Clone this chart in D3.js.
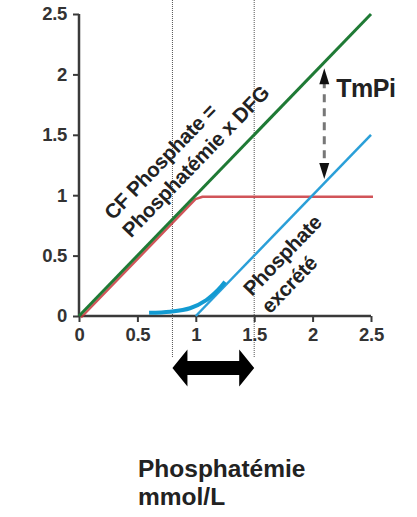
<!DOCTYPE html>
<html>
<head>
<meta charset="utf-8">
<script src="https://cdn.jsdelivr.net/npm/d3@7"></script>
<style>
  html, body { margin: 0; padding: 0; background: #fff; }
  svg { display: block; }
  text { font-family: "Liberation Sans", Arial, Helvetica, sans-serif; font-weight: bold; }
</style>
</head>
<body>
<svg id="chart" width="417" height="517"></svg>
<script>
// Phosphate handling by the kidney: filtered load, tubular maximum, excretion
const xTicks = [0, 0.5, 1, 1.5, 2, 2.5];
const yTicks = [0, 0.5, 1, 1.5, 2, 2.5];
const xTickLabels = ["0", "0.5", "1", "1.5", "2", "2.5"];
const yTickLabels = ["0", "0.5", "1", "1.5", "2", "2.5"];

// filtered load = plasma phosphate x GFR
const filteredLoad = [[0, 0], [2.5, 2.5]];
// reabsorbed phosphate, capped at the tubular maximum
const reabsorbed = [[0, 0], [0.98, 0.98], [1.04, 1.0], [2.5, 1.0]];
// excreted phosphate (ideal threshold) and the real splay curve
const excreted = [[1, 0], [2.5, 1.5]];
const excretedSplay = [[0.6, 0.027], [0.78, 0.036], [0.95, 0.064], [1.09, 0.132], [1.19, 0.215], [1.25, 0.284]];
// normal plasma phosphate range
const normalRange = [0.8, 1.5];
// where the TmPi gap is shown
const tmpiAt = 2.1;

const svg = d3.select("#chart");
const x = d3.scaleLinear().domain([0, 2.5]).range([79, 371]);
const y = d3.scaleLinear().domain([0, 2.5]).range([316, 14]);

// dotted verticals bounding the normal range
svg.selectAll("line.range")
  .data(normalRange)
  .join("line")
  .attr("class", "range")
  .attr("x1", d => x(d)).attr("x2", d => x(d))
  .attr("y1", 0).attr("y2", 358)
  .attr("stroke", "#555").attr("stroke-width", 1)
  .attr("stroke-dasharray", "1,1");

// axes
const axisColor = "#3a3a3a";
const xAxis = d3.axisBottom(x).tickValues(xTicks).tickSize(6).tickPadding(6)
  .tickFormat((d, i) => xTickLabels[i]);
const yAxis = d3.axisLeft(y).tickValues(yTicks).tickSize(6).tickPadding(6)
  .tickFormat((d, i) => yTickLabels[i]);

const gx = svg.append("g").attr("transform", `translate(0,${y(0)})`).call(xAxis);
const gy = svg.append("g").attr("transform", `translate(${x(0)},0)`).call(yAxis);
[gx, gy].forEach(g => {
  g.select(".domain").attr("stroke", axisColor).attr("stroke-width", 2.5);
  g.selectAll(".tick line").attr("stroke", axisColor).attr("stroke-width", 2);
  g.selectAll(".tick text").attr("fill", "#333").attr("font-size", 18.5)
    .attr("font-family", "'Liberation Sans', Arial, sans-serif").attr("font-weight", "bold")
    .attr("letter-spacing", "-0.3");
});
gx.select(".domain").attr("d", `M${x(0)},0H${x(2.5)}`);
gy.select(".domain").attr("d", `M0,${y(0)}V${y(2.5)}`);

const line = d3.line().x(d => x(d[0])).y(d => y(d[1]));

// reabsorbed (red), slightly offset so it shows beside the filtered load
svg.append("path")
  .datum(reabsorbed)
  .attr("d", line.curve(d3.curveLinear))
  .attr("transform", "translate(2,1.5)")
  .attr("fill", "none").attr("stroke", "#c9363c").attr("stroke-width", 2.5)
  .attr("stroke-linejoin", "round")
  .attr("stroke-opacity", 0.85);

// filtered load (green)
svg.append("path")
  .datum(filteredLoad)
  .attr("d", line.curve(d3.curveLinear))
  .attr("fill", "none").attr("stroke", "#1f7a35").attr("stroke-width", 3);

// excreted (blue)
svg.append("path")
  .datum(excreted)
  .attr("d", line.curve(d3.curveLinear))
  .attr("fill", "none").attr("stroke", "#2a9fd8").attr("stroke-width", 2.5);

svg.append("path")
  .datum(excretedSplay)
  .attr("d", line.curve(d3.curveCatmullRom))
  .attr("fill", "none").attr("stroke", "#139bd2").attr("stroke-width", 4)
  .attr("stroke-linecap", "butt");

// TmPi dashed double arrow between filtered load and excretion
const yTop = y(tmpiAt) + 6;
const yBot = y(tmpiAt - 1) - 4;
const xa = x(tmpiAt);
svg.append("line")
  .attr("x1", xa).attr("x2", xa)
  .attr("y1", yTop + 12).attr("y2", yBot - 12)
  .attr("stroke", "#777").attr("stroke-width", 3)
  .attr("stroke-dasharray", "8,6");
svg.append("path")
  .attr("d", `M${xa},${yTop}L${xa - 5},${yTop + 16}L${xa + 5},${yTop + 16}Z`)
  .attr("fill", "#111");
svg.append("path")
  .attr("d", `M${xa},${yBot}L${xa - 5},${yBot - 16}L${xa + 5},${yBot - 16}Z`)
  .attr("fill", "#111");
svg.append("text")
  .attr("x", xa + 12).attr("y", yTop + 29)
  .attr("font-size", 25).attr("fill", "#222").attr("letter-spacing", "-0.5")
  .text("TmPi");

// black double arrow under the normal range
const ax0 = x(normalRange[0]), ax1 = x(normalRange[1]);
const ay = 368, head = 15, halfH = 18.5, halfS = 7;
svg.append("path")
  .attr("d", `M${ax0},${ay}L${ax0 + head},${ay - halfH}V${ay - halfS}H${ax1 - head}V${ay - halfH}` +
             `L${ax1},${ay}L${ax1 - head},${ay + halfH}V${ay + halfS}H${ax0 + head}V${ay + halfH}Z`)
  .attr("fill", "#000");

// diagonal annotations
const angle = -Math.atan((y(0) - y(1)) / (x(1) - x(0))) * 180 / Math.PI;
function diagLabel(px, py, lines, size, gap) {
  const g = svg.append("g").attr("transform", `translate(${px},${py}) rotate(${angle})`);
  g.selectAll("text").data(lines).join("text")
    .attr("x", 0).attr("y", (d, i) => i * gap)
    .attr("font-size", size).attr("fill", "#222").attr("letter-spacing", "-0.3")
    .text(d => d);
}
diagLabel(113, 221, ["CF Phosphate =", "Phosphatémie x DFG"], 20.5, 25);
diagLabel(252, 297, ["Phosphate", "excrété"], 20.5, 25);

// x axis title
svg.selectAll("text.title").data(["Phosphatémie", "mmol/L"]).join("text")
  .attr("class", "title")
  .attr("x", 138).attr("y", (d, i) => 477 + i * 28)
  .attr("font-size", 24.5).attr("fill", "#222").attr("letter-spacing", "0")
  .text(d => d);
</script>
</body>
</html>
